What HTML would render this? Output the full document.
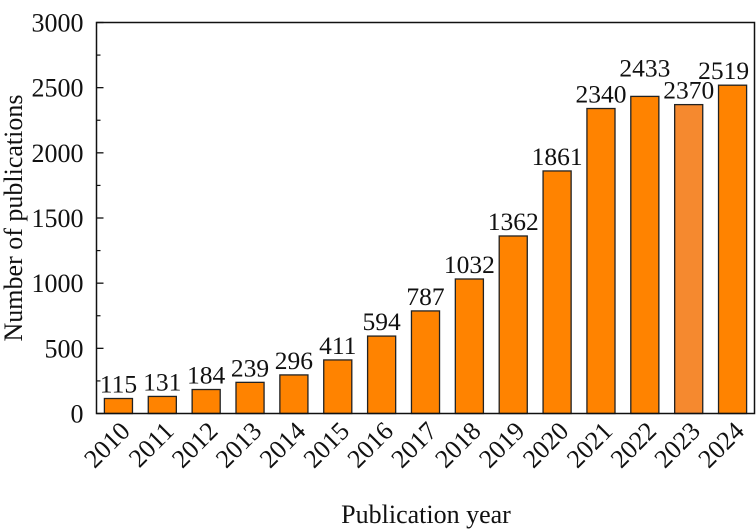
<!DOCTYPE html>
<html><head><meta charset="utf-8"><style>
body{margin:0;background:#fff}
svg{display:block;font-family:"Liberation Serif",serif}
</style></head><body>
<svg id="c" width="756" height="529"></svg>
<script>
const years=["2010","2011","2012","2013","2014","2015","2016","2017","2018","2019","2020","2021","2022","2023","2024"];
const counts=[115,131,184,239,296,411,594,787,1032,1362,1861,2340,2433,2370,2519];
const yTicks=[0,500,1000,1500,2000,2500,3000];
const L=96.5,R=754.5,T=22.5,B=413.5,YMAX=3000;
const svg=document.getElementById('c');
const NS='http://www.w3.org/2000/svg';
function y(v){return B-(v/YMAX)*(B-T);}
const slot=(R-L)/years.length;
function x(i){return L+slot*(i+0.5);}
function mk(t,a,p){const e=document.createElementNS(NS,t);for(const k in a)e.setAttribute(k,a[k]);(p||svg).appendChild(e);return e;}
counts.forEach((v,i)=>{
 const w=slot*0.64;
 const r=mk('rect',{x:x(i)-w/2,y:y(v),width:w,height:B-y(v),fill:years[i]==="2023"?"#f5892f":"#ff8300",stroke:"#222","stroke-width":1.3});
 
 
 const t=mk('text',{x:x(i)-(years[i]==="2024"?9:0),y:y(v)-6-(years[i]==="2022"?14:0),"text-anchor":"middle","font-size":25.5,fill:"#111"});
 t.textContent=v;
 
 
 const xl=mk('text',{transform:`translate(${x(i)+13},${B+19}) rotate(-45)`,"text-anchor":"end","font-size":26,fill:"#111"});
 xl.textContent=years[i];
 
 
});
const f=mk('rect',{x:L,y:T,width:R-L,height:B-T,fill:"none",stroke:"#111","stroke-width":1.5});


yTicks.forEach(v=>{
 mk('line',{x1:L,x2:L+7,y1:y(v),y2:y(v),stroke:"#111","stroke-width":1.3});
 if(v<YMAX)mk('line',{x1:L,x2:L+4,y1:y(v+250),y2:y(v+250),stroke:"#111","stroke-width":1.2});
 const t=mk('text',{x:L-13,y:y(v)+9,"text-anchor":"end","font-size":26,fill:"#111"});
 t.textContent=v;
 
 
});
const xt=mk('text',{x:426,y:523,"text-anchor":"middle","font-size":26,fill:"#111"});
xt.textContent="Publication year";


const yt=mk('text',{transform:"translate(22,218) rotate(-90)","text-anchor":"middle","font-size":26,fill:"#111"});
yt.textContent="Number of publications";


</script>
</body></html>
